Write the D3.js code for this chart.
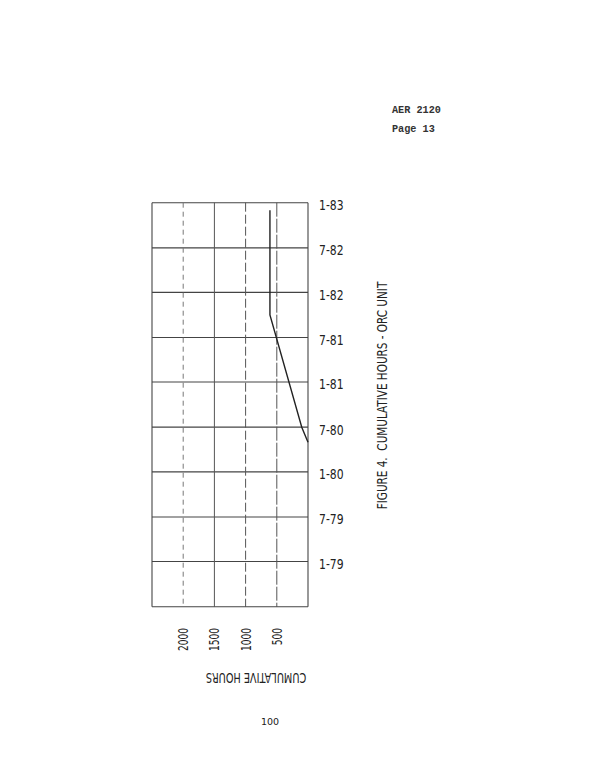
<!DOCTYPE html>
<html>
<head>
<meta charset="utf-8">
<script src="https://cdn.jsdelivr.net/npm/d3@7/dist/d3.min.js"></script>
<style>
  html, body { margin: 0; padding: 0; background: #fff; }
  svg { display: block; }
  .cond { font-family: "DejaVu Sans Condensed", "DejaVu Sans", sans-serif; font-stretch: condensed; }
</style>
</head>
<body>
<svg id="chart" width="612" height="780"></svg>
<script>
// ---- data ----
const obsDates = ["1980-05", "1980-07", "1981-10", "1982-12"];
const cumHours = [0, 100, 610, 610];
const dateTicks = ["1979-01", "1979-07", "1980-01", "1980-07", "1981-01", "1981-07", "1982-01", "1982-07", "1983-01"];
const dateTickLabels = ["1-79", "7-79", "1-80", "7-80", "1-81", "7-81", "1-82", "7-82", "1-83"];
const hourTicks = [500, 1000, 1500, 2000];
const hourTickLabels = ["500", "1000", "1500", "2000"];

(function () {
const parse = d3.timeParse("%Y-%m");
const svg = d3.select("#chart");

const x = d3.scaleLinear().domain([0, 2500]).range([308, 152]);
const y = d3.scaleTime().domain([parse("1978-07"), parse("1983-01")]).range([606.7, 202.7]);

const gridColor = "#444";

// horizontal grid lines (date ticks)
svg.append("g").selectAll("line").data(dateTicks).join("line")
  .attr("x1", x(2500)).attr("x2", x(0))
  .attr("y1", d => y(parse(d))).attr("y2", d => y(parse(d)))
  .attr("stroke", gridColor).attr("stroke-width", 1.1);

// vertical grid lines (hour ticks)
const dashes = { 500: "14,2", 1000: "9,3", 1500: "none", 2000: "5,4" };
svg.append("g").selectAll("line").data(hourTicks).join("line")
  .attr("x1", d => x(d)).attr("x2", d => x(d))
  .attr("y1", y(parse("1983-01"))).attr("y2", y(parse("1978-07")))
  .attr("stroke", d => d === 2000 ? "#777" : "#555")
  .attr("stroke-width", 1)
  .attr("stroke-dasharray", d => dashes[d]);

// frame
const yTop = y(parse("1983-01")), yBot = y(parse("1978-07"));
const frame = svg.append("g").attr("stroke", gridColor).attr("stroke-width", 1.1).attr("fill", "none");
frame.append("line").attr("x1", x(2500)).attr("x2", x(2500)).attr("y1", yTop).attr("y2", yBot);
frame.append("line").attr("x1", x(0)).attr("x2", x(0)).attr("y1", yTop).attr("y2", yBot);
frame.append("line").attr("x1", x(2500)).attr("x2", x(0)).attr("y1", yBot).attr("y2", yBot);

// data line
const line = d3.line()
  .x((d, i) => x(cumHours[i]))
  .y(d => y(parse(d)));
svg.append("path").datum(obsDates)
  .attr("d", line)
  .attr("fill", "none").attr("stroke", "#222").attr("stroke-width", 1.4);

// date labels (right side)
svg.append("g").selectAll("text").data(dateTicks).join("text")
  .attr("class", "cond")
  .attr("transform", d => `translate(319,${y(parse(d)) + 2.5}) scale(0.86,1)`)
  .attr("dy", "0.35em")
  .attr("font-size", 14).attr("fill", "#222")
  .text((d, i) => dateTickLabels[i]);

// hour labels (rotated)
svg.append("g").selectAll("text").data(hourTicks).join("text")
  .attr("class", "cond")
  .attr("transform", d => `translate(${x(d) + 5},628) rotate(-90) scale(0.72,1)`)
  .attr("text-anchor", "end")
  .attr("font-size", 14).attr("fill", "#222")
  .text((d, i) => hourTickLabels[i]);

// axis title (upside down)
svg.append("text").attr("class", "cond")
  .attr("transform", "translate(256,678) rotate(180) scale(0.8,1)")
  .attr("text-anchor", "middle").attr("dy", "0.35em")
  .attr("font-size", 13.5).attr("fill", "#222")
  .text("CUMULATIVE HOURS");

// figure caption (rotated)
svg.append("text").attr("class", "cond")
  .attr("transform", "translate(387,395.5) rotate(-90) scale(0.83,1)")
  .attr("text-anchor", "middle")
  .attr("font-size", 14).attr("fill", "#222")
  .attr("xml:space", "preserve")
  .text("FIGURE 4.  CUMULATIVE HOURS - ORC UNIT");

// header
const mono = "'Liberation Mono', 'DejaVu Sans Mono', monospace";
svg.append("text").attr("x", 392).attr("y", 112.5)
  .attr("font-family", mono).attr("font-size", 10.2).attr("font-weight", "bold").attr("fill", "#333")
  .text("AER 2120");
svg.append("text").attr("x", 392).attr("y", 131.5)
  .attr("font-family", mono).attr("font-size", 10.2).attr("font-weight", "bold").attr("fill", "#333")
  .text("Page 13");

// page number
svg.append("text").attr("x", 270).attr("y", 725)
  .attr("text-anchor", "middle")
  .attr("font-family", "'DejaVu Sans', sans-serif").attr("font-size", 9.5).attr("fill", "#222")
  .text("100");
})();
</script>
</body>
</html>
